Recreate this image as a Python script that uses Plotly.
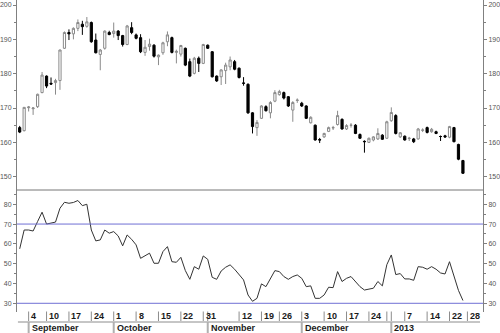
import pandas as pd
import plotly.graph_objects as go

# ---------------- data ----------------
holidays = ["2012-09-03", "2012-10-29", "2012-10-30", "2012-11-22",
            "2012-12-25", "2013-01-01", "2013-01-21"]

opens = [164.3, 163.4, 170.1, 169.8, 170.4, 174.5, 179.3, 177.2, 177.4, 178.0,
         187.4, 192.0, 191.6, 193.2, 194.4, 193.8, 194.9, 189.8, 185.6, 187.4,
         192.0, 191.7, 192.4, 191.1, 188.5, 193.4, 191.3, 190.5, 186.2, 187.9,
         188.3, 184.9, 186.1, 189.3, 190.5, 186.2, 185.7, 187.4, 183.5, 180.1,
         184.5, 183.0, 188.3, 186.4, 179.3, 179.1, 180.9, 182.0, 183.5, 181.6,
         177.3, 176.9, 168.6, 164.3, 167.0, 170.4, 168.6, 172.0, 173.9, 174.5,
         173.3, 169.4, 172.2, 171.4, 170.6, 165.7, 165.0, 160.8, 161.6, 163.2,
         164.2, 165.2, 166.7, 163.9, 165.0, 165.0, 162.3, 160.3, 160.0, 160.7,
         161.0, 162.1, 161.2, 166.3, 167.8, 161.6, 161.8, 161.1, 161.0, 161.0,
         163.5, 164.3, 163.1, 163.1, 161.7, 161.9, 161.5, 164.3, 159.4, 154.7]
highs = [164.8, 170.3, 170.6, 170.3, 174.2, 180.5, 179.5, 178.9, 178.5, 187.0,
         192.3, 192.9, 193.5, 195.8, 195.4, 196.5, 195.2, 191.7, 187.2, 192.6,
         192.5, 194.9, 192.7, 191.3, 194.2, 195.0, 191.7, 191.5, 189.8, 190.2,
         188.6, 185.6, 189.3, 192.3, 190.8, 187.0, 188.4, 187.6, 184.4, 184.9,
         185.0, 188.7, 188.5, 186.6, 179.5, 181.3, 183.2, 185.0, 184.0, 181.8,
         179.0, 177.2, 168.8, 166.5, 170.8, 170.8, 172.0, 175.2, 175.3, 174.8,
         173.5, 172.0, 172.8, 171.8, 170.8, 167.6, 165.2, 161.3, 162.8, 164.6,
         164.8, 169.2, 167.0, 165.3, 165.6, 165.3, 162.6, 160.6, 161.4, 161.8,
         164.1, 162.4, 166.3, 170.2, 168.2, 163.0, 162.0, 161.6, 161.3, 164.2,
         164.1, 164.6, 164.2, 163.4, 162.0, 162.2, 164.8, 164.5, 159.6, 154.9]
lows = [162.7, 163.2, 169.0, 168.0, 170.0, 174.3, 175.8, 176.7, 173.9, 175.3,
        187.2, 189.8, 190.0, 192.4, 191.3, 193.4, 189.0, 185.9, 181.0, 187.0,
        191.2, 190.5, 189.8, 187.9, 188.3, 191.5, 190.0, 186.0, 185.2, 186.7,
        184.7, 182.5, 185.5, 188.0, 185.9, 183.0, 185.0, 182.2, 179.0, 179.8,
        180.5, 182.8, 187.2, 178.9, 177.6, 176.7, 177.0, 181.0, 181.0, 178.6,
        176.5, 168.3, 162.6, 161.9, 166.8, 169.0, 167.0, 171.7, 173.6, 172.5,
        170.3, 166.0, 171.5, 170.3, 166.8, 165.5, 160.5, 159.8, 161.3, 163.0,
        163.6, 164.9, 163.7, 163.6, 164.3, 162.4, 161.0, 157.0, 159.8, 160.3,
        160.7, 160.7, 161.0, 166.0, 162.3, 161.3, 160.5, 160.4, 159.8, 160.8,
        163.0, 162.6, 162.8, 162.4, 160.4, 161.3, 161.2, 160.0, 154.8, 150.8]
closes = [163.0, 170.2, 170.3, 170.0, 174.0, 179.6, 176.4, 177.0, 178.0, 186.9,
          192.0, 191.6, 193.2, 194.9, 193.7, 195.1, 189.3, 186.1, 186.9, 192.4,
          191.4, 192.4, 191.1, 188.5, 193.9, 192.0, 190.3, 186.4, 187.7, 188.6,
          185.1, 185.4, 189.0, 191.3, 186.2, 186.5, 188.2, 182.5, 179.3, 184.5,
          183.0, 188.5, 187.4, 179.1, 177.9, 181.1, 182.5, 184.0, 181.3, 178.9,
          177.2, 168.6, 164.6, 165.8, 170.6, 169.2, 171.6, 174.5, 174.8, 172.9,
          170.6, 171.6, 172.3, 170.6, 167.0, 167.3, 160.7, 160.7, 162.6, 164.3,
          164.3, 167.8, 163.9, 164.9, 165.0, 162.6, 161.2, 160.2, 161.2, 161.6,
          162.6, 160.9, 166.0, 168.7, 162.6, 162.8, 160.7, 161.2, 160.2, 163.9,
          163.6, 162.9, 163.8, 162.6, 161.7, 161.6, 164.6, 160.2, 155.1, 151.0]

rsi = [57.5, 67.0, 67.0, 66.5, 71.3, 76.0, 70.0, 70.4, 71.0, 78.0,
       81.0, 80.5, 80.9, 81.9, 79.3, 80.0, 67.0, 61.5, 62.0, 67.0,
       65.4, 66.2, 64.0, 59.0, 64.5, 62.3, 59.5, 52.7, 53.9, 55.3,
       50.2, 50.2, 56.1, 58.6, 51.0, 50.7, 53.2, 46.5, 42.1, 48.5,
       47.2, 53.9, 52.2, 43.1, 42.1, 46.3, 48.2, 49.4, 47.2, 44.3,
       41.8, 34.2, 31.0, 32.5, 39.8, 38.4, 42.1, 46.5, 46.0, 43.5,
       42.1, 43.5, 44.3, 42.6, 38.4, 38.8, 32.5, 32.5, 34.2, 38.1,
       37.9, 46.0, 41.0, 42.6, 43.5, 41.0, 38.4, 36.7, 37.1, 37.6,
       41.0, 38.8, 49.5, 54.4, 44.5, 45.0, 42.3, 42.3, 41.6, 48.5,
       48.2, 47.2, 48.5, 47.2, 45.3, 44.8, 51.0, 43.3, 36.5, 31.4]

tick_dates = ["2012-09-04", "2012-09-10", "2012-09-17", "2012-09-24",
              "2012-10-01", "2012-10-08", "2012-10-15", "2012-10-22",
              "2012-10-31", "2012-11-01", "2012-11-12", "2012-11-19",
              "2012-11-26", "2012-12-03", "2012-12-10", "2012-12-17",
              "2012-12-24", "2012-12-31", "2013-01-02", "2013-01-07",
              "2013-01-14", "2013-01-22", "2013-01-28"]
tick_labels = ["4", "10", "17", "24", "1", "8", "15", "22", "31", "",
               "12", "19", "26", "3", "10", "17", "24", "", "", "7",
               "14", "22", "28"]
month_dates = ["2012-09-04", "2012-10-01", "2012-11-01", "2012-12-03", "2013-01-02"]
month_labels = ["September", "October", "November", "December", "2013"]

# ---------------- figure ----------------
W, H = 500, 333
cal = [d.strftime("%Y-%m-%d") for d in pd.bdate_range("2012-08-30", "2013-01-28")
       if d.strftime("%Y-%m-%d") not in holidays]
pos = {d: i for i, d in enumerate(cal)}
x = list(range(len(closes)))


def py(p):
    return 1 - p / H


AXC = "#808080"
TF = dict(family="Liberation Sans, Arial", size=7, color="#555555")
LF = dict(family="Liberation Sans, Arial", size=9, color="#1a1a1a", weight="bold")

fig = go.Figure()
fig.add_trace(go.Candlestick(
    x=x, open=opens, high=highs, low=lows, close=closes,
    xaxis="x", yaxis="y", whiskerwidth=0, hoverinfo="skip",
    increasing=dict(fillcolor="white", line=dict(color="#8a8a8a", width=1)),
    decreasing=dict(fillcolor="black", line=dict(color="#000000", width=1)),
))
fig.add_trace(go.Scatter(x=x, y=rsi, xaxis="x2", yaxis="y2", mode="lines",
                         line=dict(color="#333333", width=1), hoverinfo="skip"))
# invisible helpers so the right-hand axes are drawn
fig.add_trace(go.Scatter(x=[0], y=[175], xaxis="x", yaxis="y3", mode="markers",
                         marker=dict(opacity=0), hoverinfo="skip"))
fig.add_trace(go.Scatter(x=[0], y=[50], xaxis="x2", yaxis="y4", mode="markers",
                         marker=dict(opacity=0), hoverinfo="skip"))

xr = [-0.6, 103.48]
xcommon = dict(range=xr, visible=False, showgrid=False, zeroline=False,
               fixedrange=True)


def yax(domain, rng, side, **kw):
    d = dict(domain=domain, range=rng, side=side, showline=True, linecolor=AXC,
             linewidth=1, ticks="outside", ticklen=3, tickcolor=AXC, tickwidth=1,
             dtick=10, tick0=0, tickfont=TF, showgrid=False, zeroline=False,
             minor=dict(ticks="outside", ticklen=2, tickcolor=AXC, dtick=5, tick0=0,
                        showgrid=False),
             fixedrange=True)
    d.update(kw)
    return d


top_dom = [py(190), 1]
bot_dom = [py(312), py(190)]
top_rng = [146.13, 201.46]
bot_rng = [25.6, 87.2]

fig.update_layout(
    width=W, height=H,
    margin=dict(l=14, r=14, t=0, b=0),
    paper_bgcolor="white", plot_bgcolor="white",
    showlegend=False,
    xaxis=dict(xcommon, anchor="y", domain=[0, 1], rangeslider=dict(visible=False)),
    xaxis2=dict(xcommon, anchor="y2", domain=[0, 1], matches="x"),
    yaxis=yax(top_dom, top_rng, "left", anchor="x"),
    yaxis3=yax(top_dom, top_rng, "right", anchor="x", overlaying="y"),
    yaxis2=yax(bot_dom, bot_rng, "left", anchor="x2"),
    yaxis4=yax(bot_dom, bot_rng, "right", anchor="x2", overlaying="y2"),
)

shapes = []
# panel divider
shapes.append(dict(type="line", xref="paper", yref="paper", x0=0, x1=1,
                   y0=py(190), y1=py(190), line=dict(color="#777777", width=1)))
# RSI reference lines
for lvl in (70, 30):
    shapes.append(dict(type="line", xref="paper", yref="y2", x0=0, x1=1,
                       y0=lvl, y1=lvl, line=dict(color="#7070d4", width=1)))
# date axis baseline
shapes.append(dict(type="line", xref="paper", yref="paper", x0=0.002, x1=0.9936,
                   y0=py(322), y1=py(322), line=dict(color="#8c8c8c", width=1)))

annotations = []
for d, lab in zip(tick_dates, tick_labels):
    xi = pos.get(d)
    if xi is None:
        continue
    shapes.append(dict(type="line", xref="x", yref="paper", x0=xi, x1=xi,
                       y0=py(311.5), y1=py(321), line=dict(color="#8c8c8c", width=1)))
    if lab:
        annotations.append(dict(x=xi, xref="x", y=py(315.8), yref="paper", text=lab,
                                showarrow=False, xanchor="left", yanchor="middle",
                                xshift=0.5, font=LF))
for d, lab in zip(month_dates, month_labels):
    xi = pos.get(d)
    if xi is None:
        continue
    shapes.append(dict(type="line", xref="x", yref="paper", x0=xi, x1=xi,
                       y0=py(322), y1=py(333), line=dict(color="#b0b0b0", width=2)))
    annotations.append(dict(x=xi, xref="x", y=py(328.2), yref="paper", text=lab,
                            showarrow=False, xanchor="left", yanchor="middle",
                            xshift=1, font=LF))

fig.update_layout(shapes=shapes, annotations=annotations)
fig.write_html("out.html")
